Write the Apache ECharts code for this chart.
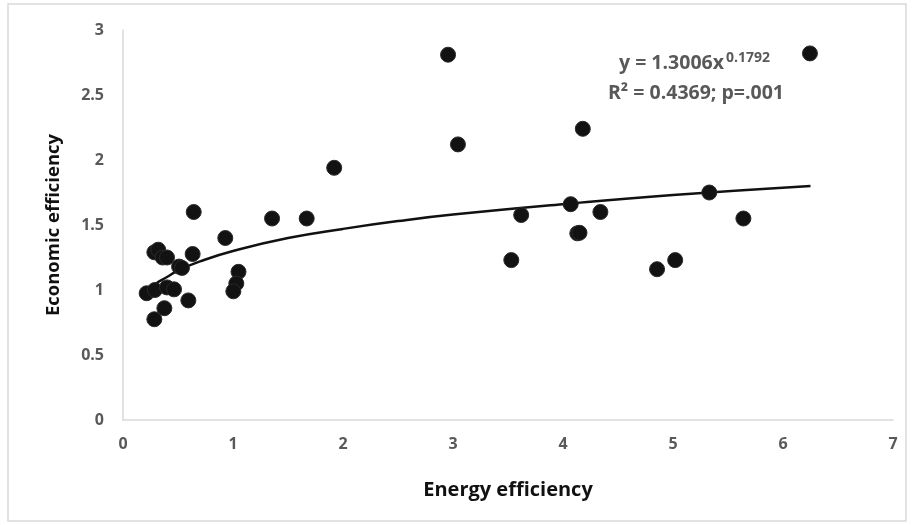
<!DOCTYPE html>
<html>
<head>
<meta charset="utf-8">
<script src="https://cdn.jsdelivr.net/npm/echarts@6/dist/echarts.min.js"></script>
<style>html,body{margin:0;padding:0;background:#fff}#c{width:913px;height:525px}</style>
</head>
<body>
<div id="c"></div>
<script>
// Scatter data: energy efficiency (x) vs economic efficiency (y)
const energyEff = [2.955, 3.045, 6.245, 1.92, 4.18, 3.62, 3.53, 4.07, 4.13, 4.15, 4.34, 4.855, 5.02, 5.33, 5.64,
  0.643, 1.355, 1.67, 0.93, 0.285, 0.32, 0.36, 0.40, 0.633, 0.51, 0.536, 1.05, 1.03, 1.003, 0.215, 0.29, 0.40, 0.464, 0.594, 0.376, 0.285];
const economicEff = [2.81, 2.12, 2.82, 1.94, 2.24, 1.577, 1.23, 1.66, 1.436, 1.44, 1.60, 1.16, 1.23, 1.75, 1.55,
  1.60, 1.55, 1.55, 1.40, 1.29, 1.31, 1.25, 1.25, 1.277, 1.18, 1.17, 1.14, 1.05, 0.99, 0.975, 1.0, 1.02, 1.005, 0.92, 0.86, 0.775];
// Power trendline
const trendX = [0.215, 0.3, 0.4, 0.5, 0.7, 1, 1.5, 2, 2.5, 3, 4, 5, 6.25];
const trendY = [0.99, 1.05, 1.10, 1.15, 1.22, 1.30, 1.40, 1.47, 1.53, 1.58, 1.66, 1.73, 1.80];
const xTicks = [0, 1, 2, 3, 4, 5, 6, 7];
const yTicks = [0, 0.5, 1, 1.5, 2, 2.5, 3];
const eqMain = 'y = 1.3006x';
const eqExp = '0.1792';
const eqStats = 'R\u00B2 = 0.4369; p=.001';
const xTitle = 'Energy efficiency';
const yTitle = 'Economic efficiency';

const FONT = '"Open Sans", "Noto Sans", sans-serif';
const chart = echarts.init(document.getElementById('c'));
const pts = energyEff.map((x, i) => [x, economicEff[i]]);
const trend = trendX.map((x, i) => [x, trendY[i]]);

chart.setOption({
  animation: false,
  backgroundColor: '#fff',
  grid: { left: 123, right: 20, top: 30, bottom: 105, containLabel: false },
  xAxis: {
    type: 'value', min: xTicks[0], max: xTicks[xTicks.length - 1], interval: 1,
    name: xTitle, nameLocation: 'middle', nameGap: 60,
    nameTextStyle: { fontFamily: FONT, fontSize: 20, fontWeight: 'bold', color: '#111' },
    axisLine: { show: true, lineStyle: { color: '#d9d9d9', width: 1.5 } },
    axisTick: { show: false }, splitLine: { show: false },
    axisLabel: { margin: 16, fontFamily: FONT, fontSize: 16, fontWeight: 'bold', color: '#595959' }
  },
  yAxis: {
    type: 'value', min: yTicks[0], max: yTicks[yTicks.length - 1], interval: 0.5,
    name: yTitle, nameLocation: 'middle', nameGap: 60, nameRotate: 90,
    nameTextStyle: { fontFamily: FONT, fontSize: 18.5, fontWeight: 'bold', color: '#111' },
    axisLine: { show: true, lineStyle: { color: '#d9d9d9', width: 1.5 } },
    axisTick: { show: false }, splitLine: { show: false },
    axisLabel: { margin: 19, fontFamily: FONT, fontSize: 16, fontWeight: 'bold', color: '#595959' }
  },
  series: [
    {
      type: 'line', data: trend, smooth: true, showSymbol: false, z: 3,
      lineStyle: { color: '#111', width: 2.5 }
    },
    {
      type: 'scatter', data: pts, symbolSize: 15, z: 4,
      itemStyle: { color: '#121212', borderColor: '#2a2a2a', borderWidth: 1, opacity: 1 }
    }
  ],
  graphic: [
    { type: 'rect', shape: { x: 8, y: 4, width: 898, height: 517 }, style: { fill: 'none', stroke: '#d9d9d9', lineWidth: 1.5 }, z: -10 },
    { type: 'text', left: 619, top: 53, style: { text: eqMain, fontFamily: FONT, fontSize: 19.5, fontWeight: 'bold', fill: '#595959' } },
    { type: 'text', left: 726, top: 51, style: { text: eqExp, fontFamily: FONT, fontSize: 14, fontWeight: 'bold', fill: '#595959' } },
    { type: 'text', left: 608, top: 83, style: { text: eqStats, fontFamily: FONT, fontSize: 19.5, fontWeight: 'bold', fill: '#595959' } }
  ]
});
</script>
</body>
</html>
